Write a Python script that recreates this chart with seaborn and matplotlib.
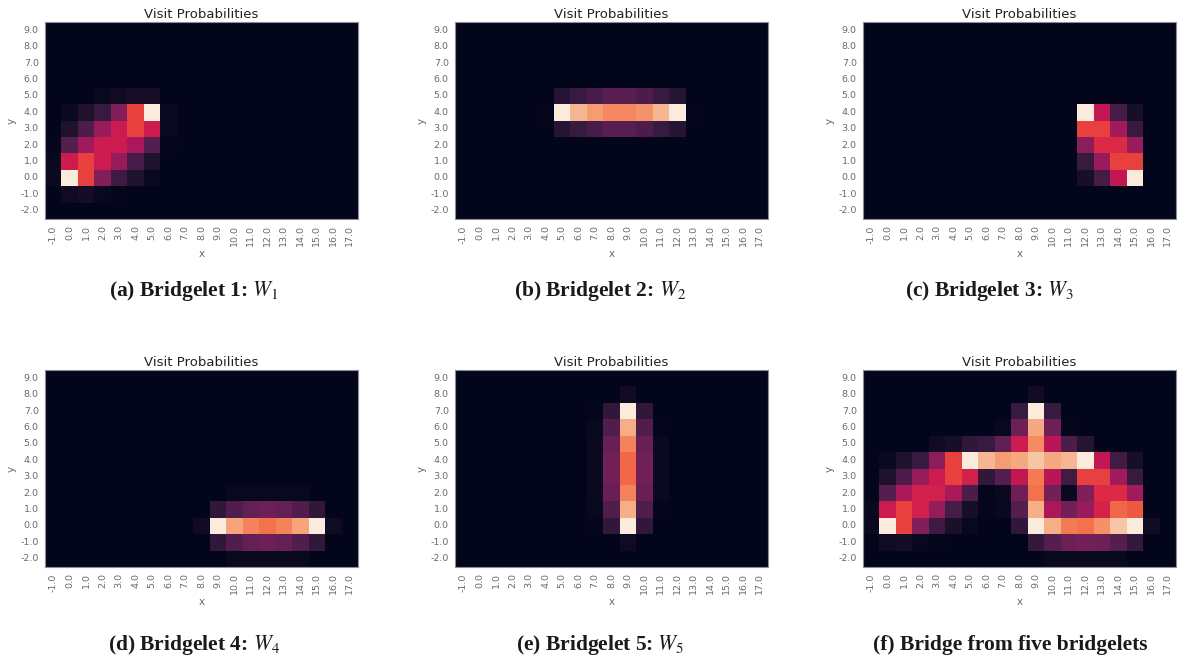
import numpy as np
import pandas as pd
import matplotlib
matplotlib.use("Agg")
import matplotlib.pyplot as plt
import seaborn as sns

# grid labels
x_labels = ["-1.0", "0.0", "1.0", "2.0", "3.0", "4.0", "5.0", "6.0", "7.0", "8.0", "9.0",
            "10.0", "11.0", "12.0", "13.0", "14.0", "15.0", "16.0", "17.0"]
y_labels = ["9.0", "8.0", "7.0", "6.0", "5.0", "4.0", "3.0", "2.0", "1.0", "0.0", "-1.0", "-2.0"]

# visit probabilities (relative, rows y=9..-2, cols x=-1..17)
w1 = [
    [0, 0, 0, 0, 0, 0, 0, 0, 0, 0, 0, 0, 0, 0, 0, 0, 0, 0, 0],
    [0, 0, 0, 0, 0, 0, 0, 0, 0, 0, 0, 0, 0, 0, 0, 0, 0, 0, 0],
    [0, 0, 0, 0, 0, 0, 0, 0, 0, 0, 0, 0, 0, 0, 0, 0, 0, 0, 0],
    [0, 0, 0, 0, 0, 0, 0, 0, 0, 0, 0, 0, 0, 0, 0, 0, 0, 0, 0],
    [0, 0, 0, 2, 4, 6, 6, 0, 0, 0, 0, 0, 0, 0, 0, 0, 0, 0, 0],
    [0, 3, 8, 15, 33, 60, 100, 3, 0, 0, 0, 0, 0, 0, 0, 0, 0, 0, 0],
    [0, 8, 20, 38, 50, 60, 50, 3, 0, 0, 0, 0, 0, 0, 0, 0, 0, 0, 0],
    [1, 22, 40, 50, 50, 42, 22, 1, 0, 0, 0, 0, 0, 0, 0, 0, 0, 0, 0],
    [2, 50, 60, 50, 38, 18, 8, 0, 0, 0, 0, 0, 0, 0, 0, 0, 0, 0, 0],
    [3, 100, 60, 33, 16, 8, 2, 0, 0, 0, 0, 0, 0, 0, 0, 0, 0, 0, 0],
    [0, 4, 5, 2, 1, 0, 0, 0, 0, 0, 0, 0, 0, 0, 0, 0, 0, 0, 0],
    [0, 0, 0, 0, 0, 0, 0, 0, 0, 0, 0, 0, 0, 0, 0, 0, 0, 0, 0],
]

w2 = [
    [0, 0, 0, 0, 0, 0, 0, 0, 0, 0, 0, 0, 0, 0, 0, 0, 0, 0, 0],
    [0, 0, 0, 0, 0, 0, 0, 0, 0, 0, 0, 0, 0, 0, 0, 0, 0, 0, 0],
    [0, 0, 0, 0, 0, 0, 0, 0, 0, 0, 0, 0, 0, 0, 0, 0, 0, 0, 0],
    [0, 0, 0, 0, 0, 0, 0, 0, 0, 0, 0, 0, 0, 0, 0, 0, 0, 0, 0],
    [0, 0, 0, 0, 0, 0, 10, 15, 19, 23, 23, 20, 15, 10, 0, 0, 0, 0, 0],
    [0, 0, 0, 0, 0, 1, 100, 86, 80, 75, 75, 78, 86, 100, 1, 0, 0, 0, 0],
    [0, 0, 0, 0, 0, 0, 10, 15, 19, 23, 23, 20, 15, 10, 0, 0, 0, 0, 0],
    [0, 0, 0, 0, 0, 0, 0, 0, 0, 0, 0, 0, 0, 0, 0, 0, 0, 0, 0],
    [0, 0, 0, 0, 0, 0, 0, 0, 0, 0, 0, 0, 0, 0, 0, 0, 0, 0, 0],
    [0, 0, 0, 0, 0, 0, 0, 0, 0, 0, 0, 0, 0, 0, 0, 0, 0, 0, 0],
    [0, 0, 0, 0, 0, 0, 0, 0, 0, 0, 0, 0, 0, 0, 0, 0, 0, 0, 0],
    [0, 0, 0, 0, 0, 0, 0, 0, 0, 0, 0, 0, 0, 0, 0, 0, 0, 0, 0],
]

w3 = [
    [0, 0, 0, 0, 0, 0, 0, 0, 0, 0, 0, 0, 0, 0, 0, 0, 0, 0, 0],
    [0, 0, 0, 0, 0, 0, 0, 0, 0, 0, 0, 0, 0, 0, 0, 0, 0, 0, 0],
    [0, 0, 0, 0, 0, 0, 0, 0, 0, 0, 0, 0, 0, 0, 0, 0, 0, 0, 0],
    [0, 0, 0, 0, 0, 0, 0, 0, 0, 0, 0, 0, 0, 0, 0, 0, 0, 0, 0],
    [0, 0, 0, 0, 0, 0, 0, 0, 0, 0, 0, 0, 0, 0, 0, 0, 0, 0, 0],
    [0, 0, 0, 0, 0, 0, 0, 0, 0, 0, 0, 0, 0, 100, 48, 18, 6, 0, 0],
    [0, 0, 0, 0, 0, 0, 0, 0, 0, 0, 0, 0, 0, 60, 60, 40, 15, 0, 0],
    [0, 0, 0, 0, 0, 0, 0, 0, 0, 0, 0, 0, 0, 35, 55, 55, 38, 0, 0],
    [0, 0, 0, 0, 0, 0, 0, 0, 0, 0, 0, 0, 0, 15, 38, 60, 60, 0, 0],
    [0, 0, 0, 0, 0, 0, 0, 0, 0, 0, 0, 0, 0, 6, 18, 48, 100, 0, 0],
    [0, 0, 0, 0, 0, 0, 0, 0, 0, 0, 0, 0, 0, 0, 0, 0, 0, 0, 0],
    [0, 0, 0, 0, 0, 0, 0, 0, 0, 0, 0, 0, 0, 0, 0, 0, 0, 0, 0],
]

w4 = [
    [0, 0, 0, 0, 0, 0, 0, 0, 0, 0, 0, 0, 0, 0, 0, 0, 0, 0, 0],
    [0, 0, 0, 0, 0, 0, 0, 0, 0, 0, 0, 0, 0, 0, 0, 0, 0, 0, 0],
    [0, 0, 0, 0, 0, 0, 0, 0, 0, 0, 0, 0, 0, 0, 0, 0, 0, 0, 0],
    [0, 0, 0, 0, 0, 0, 0, 0, 0, 0, 0, 0, 0, 0, 0, 0, 0, 0, 0],
    [0, 0, 0, 0, 0, 0, 0, 0, 0, 0, 0, 0, 0, 0, 0, 0, 0, 0, 0],
    [0, 0, 0, 0, 0, 0, 0, 0, 0, 0, 0, 0, 0, 0, 0, 0, 0, 0, 0],
    [0, 0, 0, 0, 0, 0, 0, 0, 0, 0, 0, 0, 0, 0, 0, 0, 0, 0, 0],
    [0, 0, 0, 0, 0, 0, 0, 0, 0, 0, 0, 2, 2, 2, 2, 2, 0, 0, 0],
    [0, 0, 0, 0, 0, 0, 0, 0, 0, 0, 13, 21, 26, 28, 26, 21, 13, 0, 0],
    [0, 0, 0, 0, 0, 0, 0, 0, 0, 4, 100, 82, 74, 70, 74, 82, 100, 4, 0],
    [0, 0, 0, 0, 0, 0, 0, 0, 0, 0, 13, 21, 26, 28, 26, 21, 13, 0, 0],
    [0, 0, 0, 0, 0, 0, 0, 0, 0, 0, 0, 2, 2, 2, 2, 2, 0, 0, 0],
]

w5 = [
    [0, 0, 0, 0, 0, 0, 0, 0, 0, 0, 0, 0, 0, 0, 0, 0, 0, 0, 0],
    [0, 0, 0, 0, 0, 0, 0, 0, 0, 0, 4, 0, 0, 0, 0, 0, 0, 0, 0],
    [0, 0, 0, 0, 0, 0, 0, 0, 1, 13, 100, 13, 0, 0, 0, 0, 0, 0, 0],
    [0, 0, 0, 0, 0, 0, 0, 0, 2, 21, 84, 21, 1, 0, 0, 0, 0, 0, 0],
    [0, 0, 0, 0, 0, 0, 0, 0, 3, 27, 74, 27, 3, 0, 0, 0, 0, 0, 0],
    [0, 0, 0, 0, 0, 0, 0, 0, 3, 29, 68, 29, 3, 0, 0, 0, 0, 0, 0],
    [0, 0, 0, 0, 0, 0, 0, 0, 3, 29, 68, 29, 3, 0, 0, 0, 0, 0, 0],
    [0, 0, 0, 0, 0, 0, 0, 0, 3, 27, 74, 27, 3, 0, 0, 0, 0, 0, 0],
    [0, 0, 0, 0, 0, 0, 0, 0, 2, 21, 84, 21, 1, 0, 0, 0, 0, 0, 0],
    [0, 0, 0, 0, 0, 0, 0, 0, 1, 13, 100, 13, 0, 0, 0, 0, 0, 0, 0],
    [0, 0, 0, 0, 0, 0, 0, 0, 0, 0, 4, 0, 0, 0, 0, 0, 0, 0, 0],
    [0, 0, 0, 0, 0, 0, 0, 0, 0, 0, 0, 0, 0, 0, 0, 0, 0, 0, 0],
]

bridge = [
    [0, 0, 0, 0, 0, 0, 0, 0, 0, 0, 0, 0, 0, 0, 0, 0, 0, 0, 0],
    [0, 0, 0, 0, 0, 0, 0, 0, 0, 0, 4, 0, 0, 0, 0, 0, 0, 0, 0],
    [0, 0, 0, 0, 0, 0, 0, 0, 0, 15, 100, 15, 0, 0, 0, 0, 0, 0, 0],
    [0, 0, 0, 0, 0, 0, 0, 0, 2, 28, 83, 28, 1, 0, 0, 0, 0, 0, 0],
    [0, 0, 0, 0, 4, 6, 13, 15, 25, 50, 76, 46, 20, 10, 0, 0, 0, 0, 0],
    [0, 3, 8, 15, 35, 60, 100, 86, 80, 83, 90, 83, 86, 100, 48, 17, 6, 0, 0],
    [0, 8, 20, 38, 50, 60, 52, 13, 22, 48, 72, 46, 17, 60, 60, 40, 15, 0, 0],
    [1, 22, 42, 52, 52, 42, 20, 1, 3, 28, 70, 30, 3, 33, 55, 55, 40, 0, 0],
    [2, 50, 60, 52, 38, 18, 6, 1, 2, 22, 84, 42, 30, 38, 53, 68, 65, 0, 0],
    [3, 100, 60, 33, 16, 7, 2, 0, 0, 13, 100, 84, 72, 70, 77, 90, 100, 4, 0],
    [0, 4, 5, 2, 1, 0, 0, 0, 0, 0, 14, 22, 28, 30, 28, 22, 14, 0, 0],
    [0, 0, 0, 0, 0, 0, 0, 0, 0, 0, 0, 2, 2, 2, 2, 2, 0, 0, 0],
]

captions = [
    r"(a) Bridgelet 1: $W_1$",
    r"(b) Bridgelet 2: $W_2$",
    r"(c) Bridgelet 3: $W_3$",
    r"(d) Bridgelet 4: $W_4$",
    r"(e) Bridgelet 5: $W_5$",
    "(f) Bridge from five bridgelets",
]
panels = [w1, w2, w3, w4, w5, bridge]

sns.set_style("white")
plt.rcParams["mathtext.fontset"] = "stix"

W, H = 1180, 662
fig = plt.figure(figsize=(W / 100, H / 100), dpi=100)

# axes boxes in pixels: left, top, width, height
lefts = [45, 455, 863]
tops = [22, 370]
ax_w, ax_h = 313, 197
cap_x = [194, 600, 990, 194, 600, 1010]
cap_y = [291, 645]

gray = "#6a6a6a"
for i, (data, cap) in enumerate(zip(panels, captions)):
    r, c = divmod(i, 3)
    l, t = lefts[c], tops[r]
    ax = fig.add_axes([l / W, 1 - (t + ax_h) / H, ax_w / W, ax_h / H])
    df = pd.DataFrame(data, index=y_labels, columns=x_labels)
    sns.heatmap(df, ax=ax, cbar=False, xticklabels=True, yticklabels=True)
    ax.set_title("Visit Probabilities", fontsize=9.5, color="#222222", pad=3)
    ax.set_xlabel("x", fontsize=7.5, color=gray, labelpad=2)
    ax.set_ylabel("y", fontsize=7.5, color=gray, labelpad=3)
    ax.tick_params(axis="both", labelsize=6.8, colors=gray, length=2.5, width=0.6, pad=2)
    ax.tick_params(axis="x", labelrotation=90)
    ax.tick_params(axis="y", labelrotation=0)
    for sp in ax.spines.values():
        sp.set_visible(True)
        sp.set_color("#8c8c9a")
        sp.set_linewidth(0.8)
    fig.text(cap_x[i] / W, 1 - cap_y[r] / H, cap, ha="center", va="center",
             fontsize=15.5, fontweight="bold", family="Liberation Serif", color="#1a1a1a")

fig.savefig("out.png", dpi=100)
